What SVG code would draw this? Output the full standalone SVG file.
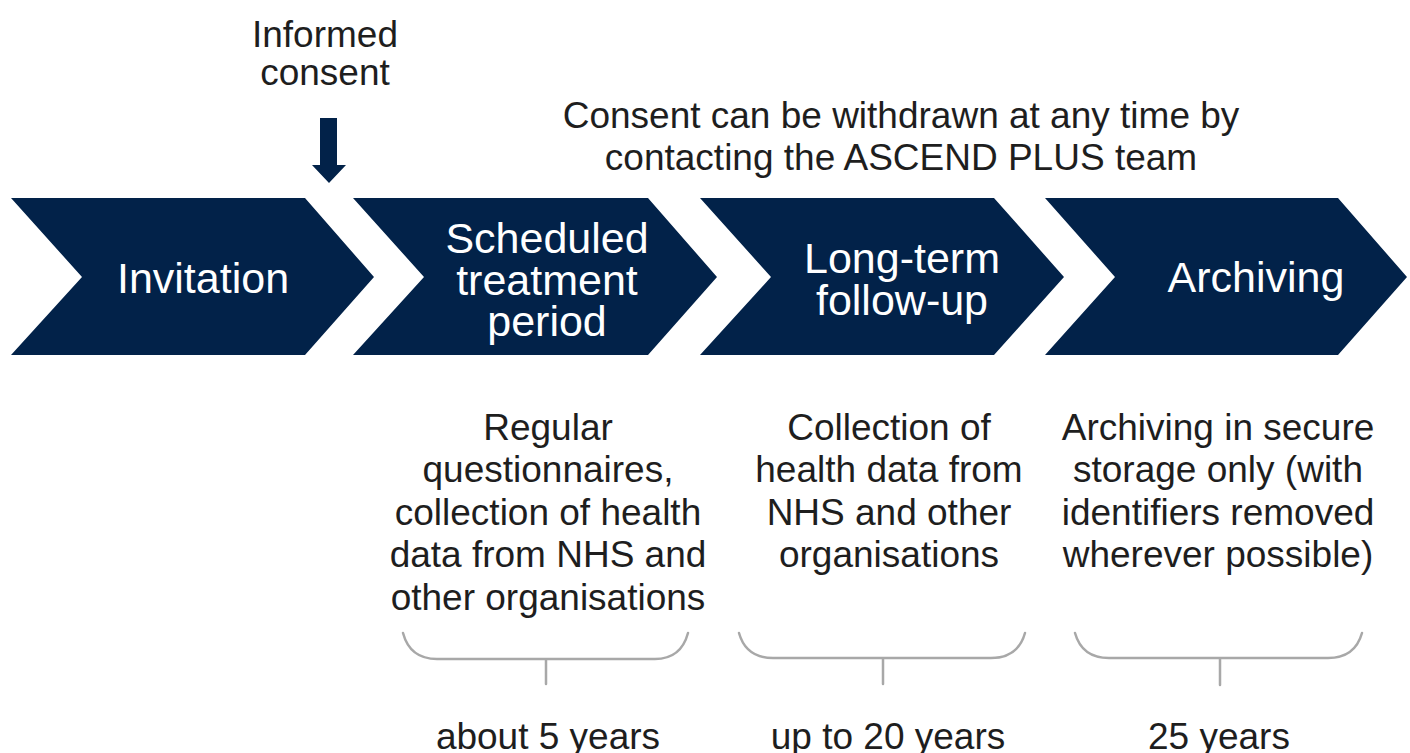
<svg xmlns="http://www.w3.org/2000/svg" width="1410" height="753" viewBox="0 0 1410 753">
<defs>
<style>
.chev{fill:#022249;}
.ct{fill:#ffffff;font-family:"Liberation Sans",Arial,sans-serif;font-size:43px;text-anchor:middle;}
.lt{fill:#1e1e1e;font-family:"Liberation Sans",Arial,sans-serif;font-size:37px;text-anchor:middle;}
.brace{fill:none;stroke:#a8a8a8;stroke-width:2.5;stroke-linecap:round;}
</style>
</defs>
<rect width="1410" height="753" fill="#ffffff"/>
<g id="informed-consent">
<text class="lt" x="325" y="47">Informed</text>
<text class="lt" x="325" y="85">consent</text>
</g>
<g id="consent-arrow">
<polygon fill="#022249" points="320,118 337,118 337,165 346,165 329,183 312,165 320,165"/>
</g>
<g id="withdraw-note">
<text class="lt" x="901" y="128">Consent can be withdrawn at any time by</text>
<text class="lt" x="901" y="170">contacting the ASCEND PLUS team</text>
</g>
<g id="invitation">
<polygon class="chev" points="11,198 305,198 374,277 305,355 11,355 82,277"/>
<text class="ct" x="203" y="293">Invitation</text>
</g>
<g id="treatment">
<polygon class="chev" points="353,198 648,198 717,277 648,355 353,355 424,277"/>
<text class="ct" x="547" y="253">Scheduled</text>
<text class="ct" x="547" y="295">treatment</text>
<text class="ct" x="547" y="336">period</text>
</g>
<g id="followup">
<polygon class="chev" points="700,198 994,198 1064,277 994,355 700,355 771,277"/>
<text class="ct" x="902" y="273">Long-term</text>
<text class="ct" x="902" y="315">follow-up</text>
</g>
<g id="archiving">
<polygon class="chev" points="1045,198 1338,198 1407,277 1338,355 1045,355 1115,277"/>
<text class="ct" x="1256" y="292">Archiving</text>
</g>
<g id="desc-treatment">
<text class="lt" x="548" y="440">Regular</text>
<text class="lt" x="548" y="482">questionnaires,</text>
<text class="lt" x="548" y="525">collection of health</text>
<text class="lt" x="548" y="567">data from NHS and</text>
<text class="lt" x="548" y="610">other organisations</text>
</g>
<g id="desc-followup">
<text class="lt" x="889" y="440">Collection of</text>
<text class="lt" x="889" y="482">health data from</text>
<text class="lt" x="889" y="525">NHS and other</text>
<text class="lt" x="889" y="567">organisations</text>
</g>
<g id="desc-archiving">
<text class="lt" x="1218" y="440">Archiving in secure</text>
<text class="lt" x="1218" y="482">storage only (with</text>
<text class="lt" x="1218" y="525">identifiers removed</text>
<text class="lt" x="1218" y="567">wherever possible)</text>
</g>
<g id="braces">
<path class="brace" d="M403,633 Q410,659 437,659 L655,659 Q681,659 688,633 M546,659 L546,684"/>
<path class="brace" d="M739,633 Q746,658 773,658 L991,658 Q1018,658 1025,633 M883,658 L883,684"/>
<path class="brace" d="M1075,633 Q1082,658 1109,658 L1328,658 Q1355,658 1362,633 M1220,658 L1220,685"/>
</g>
<g id="durations">
<text class="lt" x="548" y="749">about 5 years</text>
<text class="lt" x="888" y="749">up to 20 years</text>
<text class="lt" x="1219" y="749">25 years</text>
</g>
</svg>
